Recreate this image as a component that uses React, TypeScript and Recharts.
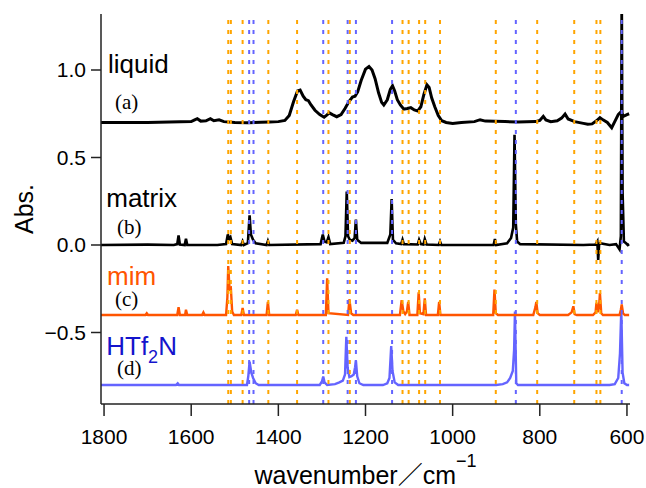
import React from "react";
import { LineChart, Line, XAxis, YAxis, ReferenceLine, ReferenceDot } from "recharts";

const FONT = "'Liberation Sans', Arial, Helvetica, 'Noto Sans CJK JP', sans-serif";
const SERIF = "'Liberation Serif', 'Times New Roman', serif";

const xTicks = [1800, 1600, 1400, 1200, 1000, 800, 600];
const yTicks = [-0.5, 0, 0.5, 1.0];

const orangeLines = [1515, 1509, 1482, 1423, 1357, 1285, 1236, 1115, 1101, 1077, 1063, 1029, 901, 806, 721, 670, 661];
const blueLines = [1467, 1457, 1297, 1241, 1222, 1139, 855, 612];

const liquid: [number, number][] = [
  [1807, 0.7], [1700, 0.7], [1600, 0.705], [1592, 0.715], [1586, 0.722], [1578, 0.708], [1566, 0.71],
  [1556, 0.722], [1548, 0.71], [1536, 0.715], [1525, 0.705], [1500, 0.7], [1470, 0.698], [1440, 0.702],
  [1420, 0.703], [1400, 0.705], [1385, 0.712], [1375, 0.74], [1365, 0.82], [1356, 0.88], [1350, 0.885],
  [1343, 0.85], [1337, 0.83], [1331, 0.825], [1325, 0.8], [1316, 0.77], [1305, 0.745], [1295, 0.73],
  [1289, 0.742], [1283, 0.755], [1276, 0.745], [1266, 0.733], [1256, 0.745], [1247, 0.78], [1238, 0.82],
  [1230, 0.845], [1224, 0.85], [1218, 0.875], [1210, 0.94], [1200, 1.005], [1192, 1.02], [1185, 1.0],
  [1178, 0.95], [1170, 0.87], [1163, 0.815], [1158, 0.8], [1150, 0.83], [1143, 0.89], [1138, 0.91],
  [1133, 0.88], [1127, 0.83], [1120, 0.8], [1112, 0.776], [1104, 0.78], [1096, 0.785], [1088, 0.772],
  [1080, 0.766], [1073, 0.79], [1066, 0.86], [1059, 0.915], [1054, 0.9], [1048, 0.84], [1041, 0.79],
  [1033, 0.74], [1025, 0.71], [1015, 0.7], [1000, 0.695], [980, 0.7], [950, 0.705], [937, 0.716],
  [925, 0.708], [880, 0.705], [850, 0.703], [810, 0.705], [800, 0.712], [792, 0.735], [786, 0.715],
  [775, 0.705], [760, 0.71], [750, 0.725], [742, 0.748], [735, 0.72], [720, 0.705], [700, 0.695],
  [690, 0.69], [680, 0.692], [670, 0.71], [662, 0.728], [655, 0.715], [645, 0.7], [635, 0.67],
  [628, 0.705], [620, 0.745], [614, 0.76], [608, 0.735], [600, 0.745], [595, 0.75],
];

const matrix: [number, number][] = [
  [1807, 0], [1700, 0.002], [1640, 0], [1632, 0.005], [1629, 0.055], [1626, 0.003], [1615, 0],
  [1612, 0.035], [1609, 0], [1540, 0], [1520, 0.005], [1516, 0.06], [1513, 0.035], [1510, 0.045],
  [1506, 0.005], [1485, 0], [1482, 0.02], [1479, 0], [1470, 0.01], [1466, 0.17], [1463, 0.06],
  [1458, 0.03], [1452, 0.01], [1427, 0], [1424, 0.022], [1421, 0], [1303, 0.005], [1298, 0.06],
  [1294, 0.02], [1289, 0.015], [1285, 0.045], [1281, 0.005], [1250, 0.012], [1246, 0.05], [1243, 0.305],
  [1240, 0.05], [1236, 0.03], [1230, 0.025], [1225, 0.04], [1222, 0.145], [1219, 0.03], [1210, 0.012],
  [1150, 0.012], [1143, 0.06], [1140, 0.262], [1137, 0.03], [1130, 0.01], [1118, 0.005], [1115, 0.03],
  [1112, 0.005], [1080, 0.003], [1077, 0.03], [1073, 0.005], [1067, 0.003], [1064, 0.034], [1060, 0.003],
  [1032, 0], [1029, 0.02], [1026, 0], [906, 0], [903, 0.034], [900, 0], [875, 0.01], [866, 0.04],
  [861, 0.1], [858, 0.63], [855, 0.12], [852, 0.02], [845, 0.005], [700, 0], [672, 0.003], [668, 0.02],
  [666, -0.085], [664, 0], [662, 0.01], [640, 0], [625, 0.005], [617, -0.025], [614, 0.05], [612, 1.5],
  [610, 0.3], [607, 0.02], [602, 0.01], [598, 0], [595, 0.005],
];

const mim: [number, number][] = [
  [1807, -0.4], [1705, -0.4], [1702, -0.39], [1699, -0.4], [1632, -0.4], [1629, -0.355], [1626, -0.4],
  [1614, -0.4], [1612, -0.37], [1609, -0.4], [1575, -0.4], [1572, -0.385], [1569, -0.4], [1520, -0.4],
  [1517, -0.3], [1515, -0.12], [1512, -0.25], [1509, -0.245], [1506, -0.38], [1502, -0.4], [1485, -0.4],
  [1482, -0.36], [1479, -0.4], [1427, -0.4], [1424, -0.325], [1421, -0.4], [1360, -0.4], [1357, -0.37],
  [1354, -0.4], [1291, -0.4], [1288, -0.19], [1285, -0.39], [1240, -0.4], [1237, -0.31], [1233, -0.39],
  [1228, -0.4], [1121, -0.4], [1117, -0.315], [1113, -0.38], [1109, -0.395], [1105, -0.38], [1102, -0.325],
  [1099, -0.4], [1081, -0.4], [1078, -0.27], [1075, -0.39], [1067, -0.395], [1064, -0.305], [1061, -0.4],
  [1034, -0.4], [1031, -0.325], [1028, -0.4], [907, -0.4], [904, -0.255], [901, -0.39], [896, -0.4],
  [815, -0.4], [810, -0.355], [808, -0.325], [805, -0.39], [800, -0.4], [735, -0.4], [727, -0.385],
  [723, -0.35], [720, -0.395], [715, -0.4], [678, -0.4], [672, -0.385], [670, -0.33], [667, -0.385],
  [664, -0.35], [662, -0.275], [659, -0.39], [655, -0.4], [617, -0.4], [614, -0.37], [612, -0.34],
  [609, -0.39], [605, -0.4], [595, -0.4],
];

const htf2n: [number, number][] = [
  [1807, -0.8], [1635, -0.8], [1631, -0.79], [1628, -0.8], [1472, -0.8], [1469, -0.75], [1466, -0.667],
  [1462, -0.73], [1458, -0.76], [1452, -0.79], [1445, -0.8], [1305, -0.8], [1300, -0.78], [1297, -0.752],
  [1294, -0.785], [1288, -0.8], [1270, -0.795], [1260, -0.785], [1252, -0.775], [1247, -0.74],
  [1244, -0.524], [1241, -0.7], [1237, -0.755], [1232, -0.75], [1227, -0.74], [1224, -0.7], [1222, -0.66],
  [1219, -0.75], [1214, -0.79], [1205, -0.8], [1160, -0.8], [1150, -0.79], [1145, -0.76], [1141, -0.577],
  [1138, -0.72], [1133, -0.785], [1125, -0.8], [900, -0.8], [885, -0.795], [875, -0.785], [868, -0.76],
  [862, -0.72], [859, -0.6], [857, -0.38], [854, -0.79], [850, -0.8], [640, -0.8], [628, -0.795],
  [620, -0.76], [616, -0.62], [613, -0.37], [610, -0.73], [606, -0.79], [600, -0.8], [595, -0.8],
];

const toRows = (a: [number, number][]) => a.map(([wn, v]) => ({ wn, v }));

const fmtY = (v: number) => v.toFixed(1).replace("-", "\u2212");

const XTitle = (props: any) => {
  const vb = props.viewBox || { x: 101, y: 404, width: 529, height: 84 };
  const cx = vb.x + vb.width / 2;
  return (
    <text x={cx} y={484} textAnchor="middle" fontFamily={FONT} fontSize={25} fill="#000">
      <tspan>wavenumber／cm</tspan>
      <tspan dy={-17} fontSize={18}>{"\u22121"}</tspan>
    </text>
  );
};

const YTitle = (props: any) => {
  const vb = props.viewBox || { x: 0, y: 14, width: 101, height: 390 };
  const cy = vb.y + vb.height / 2;
  return (
    <text x={33} y={cy} transform={`rotate(-90, 33, ${cy})`} textAnchor="middle" fontFamily={FONT} fontSize={25} fill="#000">
      Abs.
    </text>
  );
};

const mkLabel = (content: React.ReactNode, font: string, size: number, color: string) => (p: any) => (
  <text x={p.viewBox.x} y={p.viewBox.y} fontFamily={font} fontSize={size} fill={color}>
    {content}
  </text>
);

const annotations: { wn: number; v: number; node: React.ReactNode; font: string; size: number; color: string }[] = [
  { wn: 1791, v: 0.983, node: "liquid", font: FONT, size: 26, color: "#000" },
  { wn: 1775, v: 0.777, node: "(a)", font: SERIF, size: 21, color: "#000" },
  { wn: 1795, v: 0.217, node: "matrix", font: FONT, size: 26, color: "#000" },
  { wn: 1770, v: 0.063, node: "(b)", font: SERIF, size: 21, color: "#000" },
  { wn: 1793, v: -0.229, node: "mim", font: FONT, size: 26, color: "#FF5500" },
  { wn: 1775, v: -0.347, node: "(c)", font: SERIF, size: 21, color: "#000" },
  {
    wn: 1795,
    v: -0.629,
    node: (
      <>
        <tspan>HTf</tspan>
        <tspan dy={8} fontSize={18}>2</tspan>
        <tspan dy={-8}>N</tspan>
      </>
    ),
    font: FONT,
    size: 26,
    color: "#1414CC",
  },
  { wn: 1770, v: -0.742, node: "(d)", font: SERIF, size: 21, color: "#000" },
];

const AX = "#222";

export default function App() {
  return (
    <div style={{ position: "absolute", left: 0, top: 0, width: 646, height: 488, background: "#fff" }}>
      <LineChart width={646} height={488} margin={{ top: 14, right: 16, bottom: 0, left: 0 }}>
        <XAxis
          type="number"
          dataKey="wn"
          domain={[593, 1807]}
          reversed
          allowDataOverflow
          ticks={xTicks}
          interval={0}
          height={84}
          tickSize={12}
          tickMargin={13}
          stroke={AX}
          strokeWidth={1.5}
          tick={{ fill: "#000", fontSize: 21, fontFamily: FONT }}
          label={<XTitle />}
        />
        <XAxis
          xAxisId="top"
          orientation="top"
          type="number"
          dataKey="wn"
          domain={[593, 1807]}
          reversed
          allowDataOverflow
          height={0}
          tick={false}
          tickLine={false}
          stroke="#444"
          strokeWidth={1.5}
        />
        <YAxis
          type="number"
          domain={[-0.9086, 1.32]}
          allowDataOverflow
          ticks={yTicks}
          interval={0}
          width={101}
          tickSize={10}
          tickMargin={5}
          tickFormatter={fmtY}
          stroke={AX}
          strokeWidth={1.5}
          tick={{ fill: "#000", fontSize: 21, fontFamily: FONT }}
          label={<YTitle />}
        />
        <YAxis
          yAxisId="right"
          orientation="right"
          type="number"
          domain={[-0.9086, 1.32]}
          width={0}
          tick={false}
          tickLine={false}
          stroke="#444"
          strokeWidth={1.5}
        />
        <Line data={toRows(htf2n)} dataKey="v" type="linear" dot={false} stroke="#6464FF" strokeWidth={2.4} isAnimationActive={false} />
        <Line data={toRows(mim)} dataKey="v" type="linear" dot={false} stroke="#FF5500" strokeWidth={2.4} isAnimationActive={false} />
        <Line data={toRows(matrix)} dataKey="v" type="linear" dot={false} stroke="#000" strokeWidth={2.6} isAnimationActive={false} />
        <Line data={toRows(liquid)} dataKey="v" type="linear" dot={false} stroke="#000" strokeWidth={3} isAnimationActive={false} />
        {orangeLines.map((w) => (
          <ReferenceLine key={"o" + w} x={w} stroke="#FFA500" strokeWidth={2} strokeDasharray="4 6" />
        ))}
        {blueLines.map((w) => (
          <ReferenceLine key={"b" + w} x={w} stroke="#6464FF" strokeWidth={2} strokeDasharray="4 6" />
        ))}
        {annotations.map((a, i) => (
          <ReferenceDot
            key={"a" + i}
            x={a.wn}
            y={a.v}
            r={0}
            fill="none"
            stroke="none"
            label={mkLabel(a.node, a.font, a.size, a.color)}
          />
        ))}
      </LineChart>
    </div>
  );
}
